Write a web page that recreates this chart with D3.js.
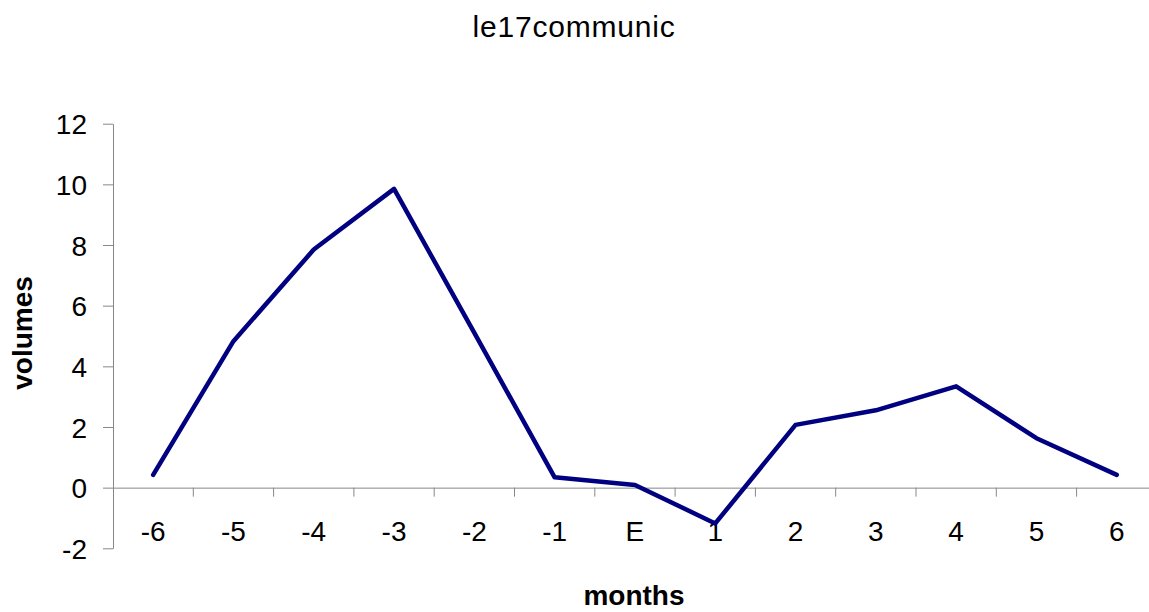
<!DOCTYPE html>
<html>
<head>
<meta charset="utf-8">
<script src="https://cdn.jsdelivr.net/npm/d3@7"></script>
<style>
  body { margin: 0; background: white; }
  svg { display: block; font-family: "Liberation Sans", Arial, sans-serif; }
</style>
</head>
<body>
<div id="viz"></div>
<script>
var months = ['-6', '-5', '-4', '-3', '-2', '-1', 'E', '1', '2', '3', '4', '5', '6'];
var volumes = [0.42, 4.83, 7.85, 9.85, 5.1, 0.34, 0.09, -1.18, 2.07, 2.55, 3.34, 1.63, 0.42];
var yTicks = [-2, 0, 2, 4, 6, 8, 10, 12];

var width = 1149,
  height = 612,
  margin = { top: 123.7, left: 113, bottom: 548.3 },
  bandW = 80.3;

var svg = d3.select('#viz').append('svg')
  .attr('width', width)
  .attr('height', height);

var xScale = d3.scaleBand()
  .domain(months)
  .range([margin.left, margin.left + bandW * months.length]);

var yScale = d3.scaleLinear()
  .domain([-2, 12])
  .range([margin.bottom, margin.top]);

// y axis
var yGuide = svg.append('g')
  .attr('transform', 'translate(' + margin.left + ',0)')
  .call(d3.axisLeft(yScale)
    .tickValues(yTicks)
    .tickFormat(function(d) { return String(d); })
    .tickSize(10).tickSizeOuter(0).tickPadding(16));
yGuide.select('.domain').attr('stroke', '#888');
yGuide.selectAll('.tick line').attr('stroke', '#888');
yGuide.selectAll('.tick text')
  .style('font-size', '28px')
  .attr('fill', '#000')
  .attr('dy', '0.36em');

// x axis along zero line, ticks between categories
var zeroY = yScale(0);
var xGuide = svg.append('g')
  .attr('transform', 'translate(0,' + zeroY + ')')
  .call(d3.axisBottom(xScale).tickSize(0).tickPadding(33));
xGuide.select('.domain').attr('stroke', '#888');
xGuide.selectAll('.tick text')
  .style('font-size', '28px')
  .attr('fill', '#000');

xGuide.selectAll('line.sep')
  .data(months.slice(1))
  .enter().append('line')
  .attr('class', 'sep')
  .attr('x1', function(d) { return xScale(d); })
  .attr('x2', function(d) { return xScale(d); })
  .attr('y1', 0)
  .attr('y2', 9)
  .attr('stroke', '#888');

// the line
var line = d3.line()
  .x(function(d, i) { return xScale(months[i]) + xScale.bandwidth() / 2; })
  .y(function(d) { return yScale(d); });

svg.append('path')
  .datum(volumes)
  .attr('d', line)
  .attr('fill', 'none')
  .attr('stroke', '#000080')
  .attr('stroke-width', 4.5)
  .attr('stroke-linejoin', 'round')
  .attr('stroke-linecap', 'round');

// titles
svg.append('text')
  .attr('x', 574)
  .attr('y', 37)
  .attr('text-anchor', 'middle')
  .style('font-size', '30px')
  .style('letter-spacing', '0.8px')
  .text('le17communic');

svg.append('text')
  .attr('x', 634)
  .attr('y', 605)
  .attr('text-anchor', 'middle')
  .style('font-size', '28px')
  .style('font-weight', 'bold')
  .text('months');

svg.append('text')
  .attr('transform', 'translate(32,333) rotate(-90)')
  .attr('text-anchor', 'middle')
  .style('font-size', '28px')
  .style('font-weight', 'bold')
  .text('volumes');
</script>
</body>
</html>
